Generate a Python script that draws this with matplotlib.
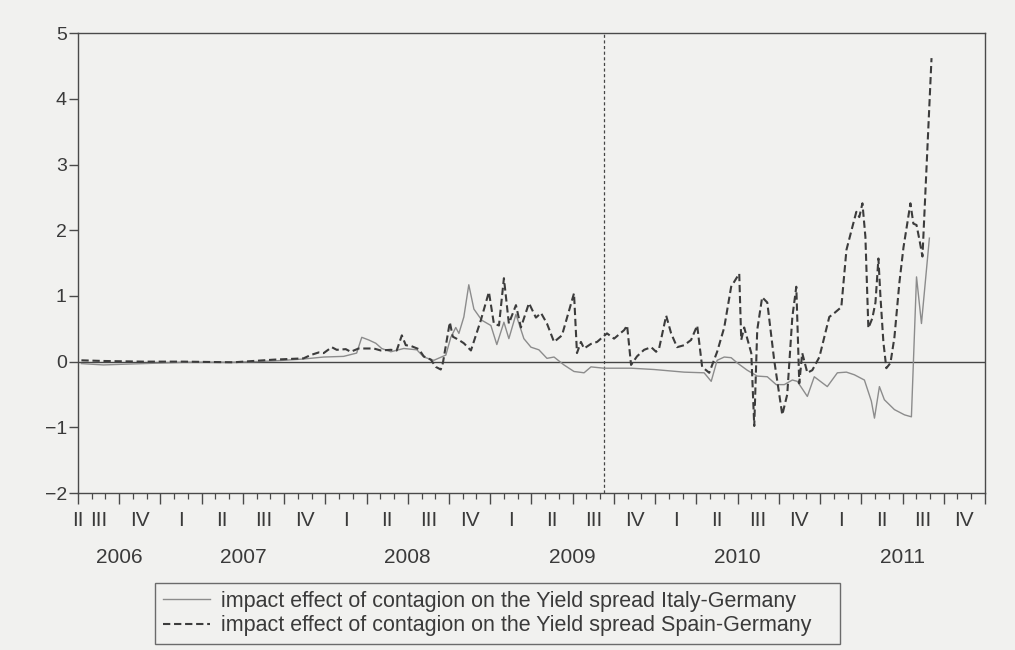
import numpy as np
import matplotlib
matplotlib.use("Agg")
import matplotlib.pyplot as plt
from matplotlib.ticker import MultipleLocator, NullFormatter

plt.rcParams['font.family'] = ['Liberation Sans', 'DejaVu Sans']

# weekly estimates, time in fractional years
spain_t = [2006.521, 2006.654, 2006.897, 2007.140, 2007.443, 2007.686, 2007.868, 2007.911,
           2007.960, 2007.990, 2008.039, 2008.069, 2008.124, 2008.154, 2008.202, 2008.294,
           2008.336, 2008.397, 2008.433, 2008.464, 2008.488, 2008.518, 2008.567, 2008.597,
           2008.640, 2008.670, 2008.700, 2008.713, 2008.755, 2008.773, 2008.810, 2008.840,
           2008.883, 2008.943, 2008.992, 2009.022, 2009.053, 2009.083, 2009.113, 2009.156,
           2009.186, 2009.235, 2009.277, 2009.308, 2009.344, 2009.387, 2009.435, 2009.508,
           2009.526, 2009.550, 2009.569, 2009.611, 2009.648, 2009.708, 2009.751, 2009.812,
           2009.830, 2009.854, 2009.890, 2009.933, 2009.976, 2010.006, 2010.024, 2010.067,
           2010.097, 2010.133, 2010.176, 2010.218, 2010.255, 2010.285, 2010.328, 2010.376,
           2010.419, 2010.461, 2010.510, 2010.522, 2010.540, 2010.583, 2010.601, 2010.619,
           2010.649, 2010.680, 2010.722, 2010.771, 2010.801, 2010.832, 2010.856, 2010.874,
           2010.892, 2010.923, 2010.953, 2010.996, 2011.056, 2011.087, 2011.129, 2011.160,
           2011.196, 2011.220, 2011.238, 2011.257, 2011.275, 2011.293, 2011.317, 2011.336,
           2011.354, 2011.366, 2011.384, 2011.402, 2011.427, 2011.451, 2011.481, 2011.506,
           2011.530, 2011.548, 2011.566, 2011.585, 2011.603, 2011.621, 2011.676]
spain_v = [0.02, 0.01, 0.00, 0.00, -0.01, 0.03, 0.05, 0.10,
           0.14, 0.13, 0.22, 0.18, 0.19, 0.15, 0.20, 0.20,
           0.17, 0.18, 0.17, 0.40, 0.25, 0.24, 0.19, 0.08,
           0.03, -0.08, -0.12, -0.02, 0.60, 0.38, 0.33, 0.28,
           0.17, 0.63, 1.06, 0.58, 0.55, 1.27, 0.58, 0.86,
           0.52, 0.89, 0.67, 0.74, 0.58, 0.30, 0.40, 1.04,
           0.13, 0.30, 0.20, 0.27, 0.30, 0.43, 0.35, 0.48,
           0.55, -0.05, 0.08, 0.18, 0.22, 0.15, 0.20, 0.70,
           0.43, 0.22, 0.25, 0.33, 0.55, -0.08, -0.17, 0.15,
           0.52, 1.14, 1.34, 0.33, 0.52, 0.13, -0.98, 0.48,
           0.98, 0.90, 0.02, -0.81, -0.50, 0.68, 1.14, -0.33,
           0.13, -0.17, -0.13, 0.07, 0.68, 0.74, 0.83, 1.70,
           2.05, 2.28, 2.20, 2.41, 1.90, 0.51, 0.66, 0.90,
           1.57, 1.00, 0.30, -0.10, -0.02, 0.37, 1.20, 1.74,
           2.12, 2.41, 2.10, 2.08, 1.85, 1.60, 4.62]

italy_t = [2006.521, 2006.654, 2006.897, 2007.140, 2007.443, 2007.686, 2007.868, 2007.990,
           2008.111, 2008.190, 2008.221, 2008.263, 2008.306, 2008.342, 2008.397, 2008.476,
           2008.555, 2008.597, 2008.658, 2008.731, 2008.761, 2008.791, 2008.810, 2008.840,
           2008.870, 2008.901, 2008.949, 2009.004, 2009.040, 2009.083, 2009.113, 2009.156,
           2009.204, 2009.247, 2009.295, 2009.344, 2009.387, 2009.447, 2009.508, 2009.569,
           2009.611, 2009.690, 2009.854, 2009.994, 2010.176, 2010.297, 2010.340, 2010.376,
           2010.419, 2010.461, 2010.498, 2010.558, 2010.619, 2010.680, 2010.734, 2010.783,
           2010.832, 2010.862, 2010.923, 2010.965, 2011.044, 2011.105, 2011.160, 2011.208,
           2011.269, 2011.311, 2011.330, 2011.360, 2011.390, 2011.451, 2011.512, 2011.554,
           2011.585, 2011.615, 2011.663]
italy_v = [-0.03, -0.05, -0.03, -0.01, -0.01, 0.01, 0.04, 0.07,
           0.08, 0.13, 0.37, 0.33, 0.28, 0.20, 0.15, 0.20,
           0.18, 0.07, 0.02, 0.10, 0.37, 0.52, 0.43, 0.68,
           1.17, 0.80, 0.63, 0.55, 0.26, 0.60, 0.35, 0.72,
           0.35, 0.22, 0.18, 0.05, 0.07, -0.05, -0.15, -0.17,
           -0.08, -0.10, -0.10, -0.12, -0.16, -0.17, -0.30, 0.02,
           0.07, 0.06, -0.02, -0.13, -0.22, -0.23, -0.35, -0.35,
           -0.28, -0.30, -0.53, -0.23, -0.38, -0.17, -0.16, -0.20,
           -0.28, -0.60, -0.86, -0.38, -0.58, -0.73, -0.81, -0.84,
           1.29, 0.58, 1.88]

quarter_names = ['I', 'II', 'III', 'IV']
years = [2006, 2007, 2008, 2009, 2010, 2011]
break_date = 2009.69

paper = '#f1f1ef'
ink = '#3a3a3a'

fig = plt.figure(figsize=(10.15, 6.5), dpi=100, facecolor=paper)
ax = fig.add_axes([0.0768, 0.2415, 0.8936, 0.7075], facecolor=paper)

ax.plot(italy_t, italy_v, color='#8c8c8c', lw=1.0,
        label='impact effect of contagion on the Yield spread Italy-Germany')
ax.plot(spain_t, spain_v, color='#3c3c3c', lw=1.5, linestyle=(0, (3.5, 1.8)),
        label='impact effect of contagion on the Yield spread Spain-Germany')
ax.axhline(0, color='#454545', lw=1.0, zorder=1)
ax.axvline(break_date, color='#454545', lw=0.9, linestyle=(0, (2.5, 2)), zorder=1)

x0, x1 = 2006.5, 2012.0
ax.set_xlim(x0, x1)
ax.set_ylim(-2, 5)
ax.set_yticks(range(-2, 6))
ax.xaxis.set_major_locator(MultipleLocator(0.25))
ax.xaxis.set_minor_locator(MultipleLocator(1 / 12))
ax.xaxis.set_major_formatter(NullFormatter())

for side in ax.spines.values():
    side.set_color('#4a4a4a')
    side.set_linewidth(1.0)
ax.tick_params(axis='y', direction='out', length=6.5, width=1.0, color='#4a4a4a',
               labelsize=14, labelcolor=ink, pad=1.5)
ax.tick_params(axis='x', which='major', direction='out', length=8, width=1.0, color='#4a4a4a')
ax.tick_params(axis='x', which='minor', direction='out', length=4, width=0.9, color='#4a4a4a')

# quarter and year labels under the axis
trans = ax.get_xaxis_transform()
for y in years:
    for q, name in enumerate(quarter_names):
        mid = y + (q + 0.5) / 4
        if y + (q + 1) / 4 < x0 or mid > x1:
            continue
        ax.text(max(mid, x0), -0.06, name, transform=trans, ha='center', va='center',
                fontsize=15, color=ink)
    ymid = (max(y, x0) + min(y + 1, x1)) / 2
    ax.text(ymid, -0.14, str(y), transform=trans, ha='center', va='center',
            fontsize=15, color=ink)

leg = ax.legend(loc='center', bbox_to_anchor=(155 / 1015, 1 - 645 / 650, 685 / 1015, 63 / 650),
                bbox_transform=fig.transFigure, mode='expand', borderaxespad=0,
                fontsize=15.5, handlelength=2.2, handletextpad=0.5, labelspacing=0.15,
                fancybox=False, frameon=True, facecolor=paper, edgecolor='#4a4a4a',
                borderpad=0.35)
leg.get_frame().set_linewidth(1.0)
for t in leg.get_texts():
    t.set_color(ink)

fig.savefig('out.png', dpi=100, facecolor=paper)
